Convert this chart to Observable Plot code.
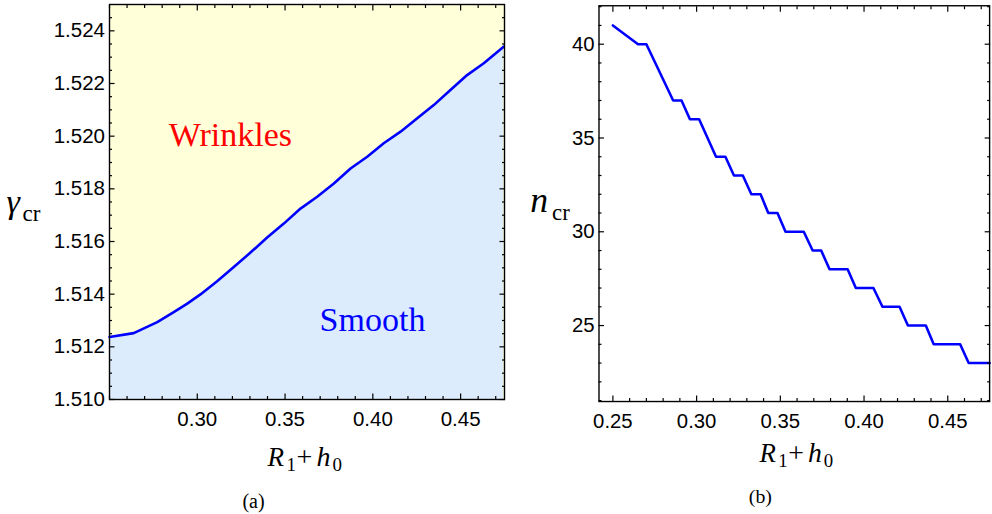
<!DOCTYPE html>
<html><head><meta charset="utf-8">
<script src="https://cdn.jsdelivr.net/npm/d3@7"></script>
<script src="https://cdn.jsdelivr.net/npm/@observablehq/plot@0.6"></script>
<style>
html,body{margin:0;padding:0;background:#fff;}
#wrap{position:relative;width:992px;height:514px;overflow:hidden;background:#fff;}
#pa,#pb{position:absolute;top:0;}
#pa{left:0;} #pb{left:500px;}
</style></head><body>
<div id="wrap"><div id="pa"></div><div id="pb"></div></div>
<script>
// ---- data: panel (a) critical stretch vs R1+h0 ----
const radiusA = [0.25, 0.2638, 0.2772, 0.2866, 0.2943, 0.3018, 0.3113, 0.3208, 0.3303, 0.3398, 0.3493, 0.3588, 0.3683, 0.3778, 0.3873, 0.3968, 0.4062, 0.4158, 0.4253, 0.4347, 0.4442, 0.4537, 0.4632, 0.4745];
const gammaCr = [1.51237, 1.51252, 1.51294, 1.51332, 1.51364, 1.51399, 1.51449, 1.51503, 1.51558, 1.51615, 1.51668, 1.51725, 1.51770, 1.51820, 1.51877, 1.51922, 1.51973, 1.52017, 1.52068, 1.52118, 1.52175, 1.52232, 1.52277, 1.52340];
// ---- data: panel (b) critical wave number vs R1+h0 ----
const radiusB = [0.25, 0.265, 0.27, 0.286, 0.291, 0.296, 0.3015, 0.3116, 0.3172, 0.3223, 0.3276, 0.3327, 0.3382, 0.3428, 0.3483, 0.3531, 0.364, 0.3693, 0.3744, 0.3794, 0.3902, 0.3951, 0.4056, 0.411, 0.4212, 0.4262, 0.4369, 0.4416, 0.4574, 0.4625, 0.475];
const nCr = [41, 40, 40, 37, 37, 36, 36, 34, 34, 33, 33, 32, 32, 31, 31, 30, 30, 29, 29, 28, 28, 27, 27, 26, 26, 25, 25, 24, 24, 23, 23];
// ---- tick labels ----
const xTicksA = [0.30, 0.35, 0.40, 0.45];
const yTicksA = [1.510, 1.512, 1.514, 1.516, 1.518, 1.520, 1.522, 1.524];
const xTicksB = [0.25, 0.30, 0.35, 0.40, 0.45];
const yTicksB = [25, 30, 35, 40];
// ---- region labels ----
const regionNames = ["Wrinkles", "Smooth"];
const regionX = [0.3189, 0.3998];
const regionY = [1.52003, 1.51300];
const regionColors = ["#FF0000", "#0000FF"];

const sans = "'Liberation Sans', Arial, sans-serif";
const serif = "'Liberation Serif', 'Times New Roman', serif";
const BLUE = "#0000FF";
const TICK_FS = 20.5;

const minorOf = (lo, hi, step, majors) =>
  d3.range(Math.round(lo/step), Math.round(hi/step) + 1).map(k => +(k*step).toFixed(6))
    .filter(v => !majors.some(m => Math.abs(m - v) < step/10));

function axes(xMaj, xMin, yMaj, yMin, yFmt, xFmt) {
  const none = () => "";
  const common = {label: null, strokeWidth: 1.2, stroke: "black"};
  return [
    Plot.axisY(yMaj, {anchor: "left", tickSize: 0, tickPadding: 4.5, tickFormat: yFmt, fontSize: TICK_FS, fill: "black", label: null}),
    Plot.axisX(xMaj, {anchor: "bottom", tickSize: 0, tickPadding: 12, tickFormat: xFmt, fontSize: TICK_FS, fill: "black", label: null}),
    ...["left", "right"].flatMap(a => [
      Plot.axisY(yMaj, {anchor: a, tickSize: -5.5, tickFormat: none, ...common}),
      Plot.axisY(yMin, {anchor: a, tickSize: -3, tickFormat: none, ...common})
    ]),
    ...["bottom", "top"].flatMap(a => [
      Plot.axisX(xMaj, {anchor: a, tickSize: -5.5, tickFormat: none, ...common}),
      Plot.axisX(xMin, {anchor: a, tickSize: -3, tickFormat: none, ...common})
    ])
  ];
}

// text piece positioned in page pixels relative to the panel's frame origin
function piece(txt, absX, absBase, P, opts) {
  return Plot.text([txt], {
    text: d => d, frameAnchor: "top-left", lineAnchor: "bottom", textAnchor: "start",
    dx: absX - P.left - P.mL, dy: absBase - P.mT, fill: "black", fontFamily: serif, ...opts
  });
}
function xTitle(P, shift) {
  return [
    piece("R", 267 + shift, 465, P, {fontSize: 27, fontStyle: "italic"}),
    piece("1", 286 + shift, 470, P, {fontSize: 19}),
    piece("+", 296 + shift, 465, P, {fontSize: 28}),
    piece("h", 316 + shift, 465, P, {fontSize: 28, fontStyle: "italic"}),
    piece("0", 332 + shift, 470, P, {fontSize: 19})
  ];
}

// ---------- panel (a) ----------
const PA = {left: 0, mL: 109, mT: 4};
const dataA = radiusA.map((x, i) => ({x, y: gammaCr[i]}));
const yLoA = 1.510, yHiA = 1.525;
const labelsA = regionNames.map((t, i) => ({t, x: regionX[i], y: regionY[i], c: regionColors[i]}));
const plotA = Plot.plot({
  width: 506, height: 514,
  marginLeft: 109, marginTop: 4, marginRight: 2, marginBottom: 115,
  x: {domain: [0.25, 0.475]},
  y: {domain: [yLoA, yHiA]},
  color: {type: "identity"},
  style: {fontFamily: sans, background: "transparent", overflow: "visible", color: "black"},
  marks: [
    Plot.frame({fill: "#FFFFDA", stroke: null}),
    Plot.areaY(dataA, {x: "x", y1: yLoA, y2: "y", fill: "#DCECFD"}),
    Plot.line(dataA, {x: "x", y: "y", stroke: BLUE, strokeWidth: 2.6}),
    Plot.text(labelsA, {x: "x", y: "y", text: "t", fill: "c", fontFamily: serif, fontSize: 34, textAnchor: "middle", lineAnchor: "middle"}),
    Plot.frame({stroke: "black", strokeWidth: 1.4}),
    ...axes(xTicksA, minorOf(0.25, 0.47, 0.01, xTicksA), yTicksA, minorOf(1.5105, 1.5245, 0.0005, yTicksA), d3.format(".3f"), d3.format(".2f")),
    piece("γ", 6, 212, PA, {fontSize: 34, fontStyle: "italic"}),
    piece("cr", 22, 220, PA, {fontSize: 23}),
    ...xTitle(PA, 0),
    Plot.text(["(a)"], {text: d => d, frameAnchor: "top-left", dx: 253 - 109, dy: 507 - 4, lineAnchor: "bottom", textAnchor: "middle", fontFamily: serif, fontSize: 20, fill: "black"})
  ]
});
document.getElementById("pa").appendChild(plotA);

// ---------- panel (b) ----------
const PB = {left: 500, mL: 99.3, mT: 5.3};
const dataB = radiusB.map((x, i) => ({x, y: nCr[i]}));
const plotB = Plot.plot({
  width: 496, height: 514,
  marginLeft: 99.3, marginTop: 5.3, marginRight: 2.9, marginBottom: 109.7,
  x: {domain: [0.2417, 0.475]},
  y: {domain: [20.95, 42.05]},
  style: {fontFamily: sans, background: "transparent", overflow: "visible", color: "black"},
  marks: [
    Plot.line(dataB, {x: "x", y: "y", stroke: BLUE, strokeWidth: 2.6}),
    Plot.frame({stroke: "black", strokeWidth: 1.4}),
    ...axes(xTicksB, minorOf(0.25, 0.47, 0.01, xTicksB), yTicksB, minorOf(21, 42, 1, yTicksB), d3.format("d"), d3.format(".2f")),
    piece("n", 530, 213, PB, {fontSize: 36, fontStyle: "italic"}),
    piece("cr", 552, 221, PB, {fontSize: 23}),
    ...xTitle(PB, 494),
    Plot.text(["(b)"], {text: d => d, frameAnchor: "top-left", dx: 762 - 500 - 99.3, dy: 507 - 5.3, lineAnchor: "bottom", textAnchor: "middle", fontFamily: serif, fontSize: 20, fill: "black"})
  ]
});
document.getElementById("pb").appendChild(plotB);
</script>
</body></html>
